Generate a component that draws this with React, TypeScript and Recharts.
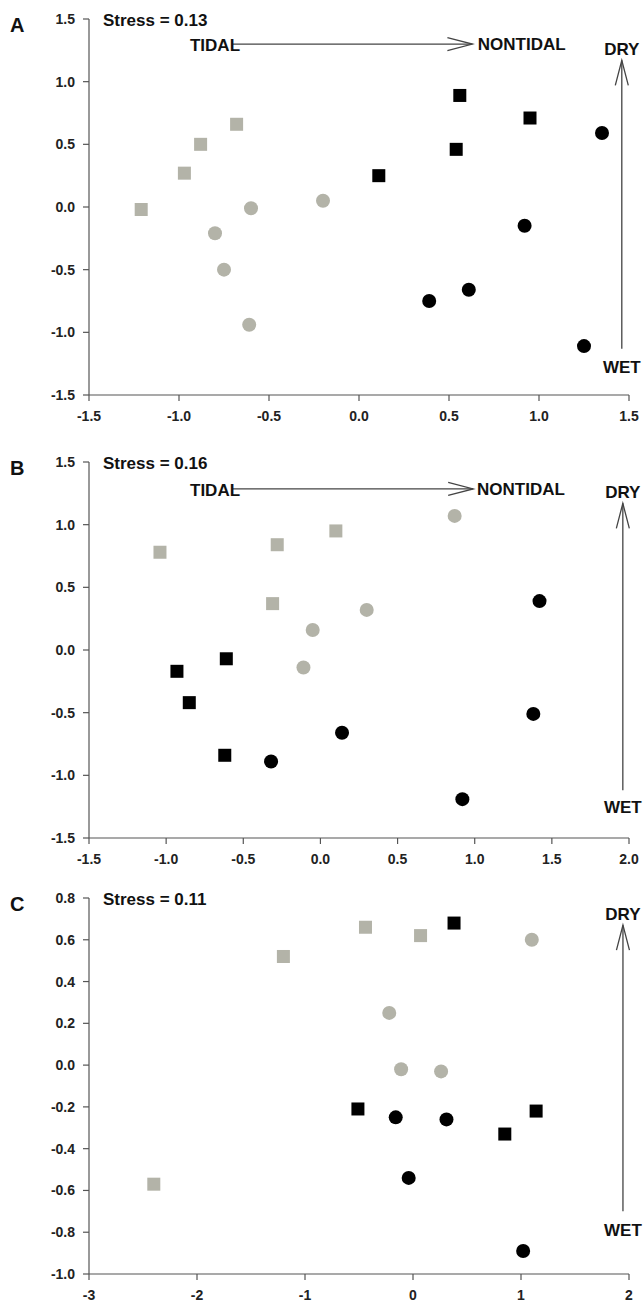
import React from "react";
import { ScatterChart, Scatter, XAxis, YAxis, ReferenceLine, ReferenceDot } from "recharts";

// ---------- Panel A ----------
const A_GRAY_SQ = [{ x: -1.21, y: -0.02 }, { x: -0.97, y: 0.27 }, { x: -0.88, y: 0.5 }, { x: -0.68, y: 0.66 }];
const A_GRAY_CI = [{ x: -0.6, y: -0.01 }, { x: -0.2, y: 0.05 }, { x: -0.8, y: -0.21 }, { x: -0.75, y: -0.5 }, { x: -0.61, y: -0.94 }];
const A_BLK_SQ = [{ x: 0.56, y: 0.89 }, { x: 0.95, y: 0.71 }, { x: 0.54, y: 0.46 }, { x: 0.11, y: 0.25 }];
const A_BLK_CI = [{ x: 1.35, y: 0.59 }, { x: 0.92, y: -0.15 }, { x: 0.61, y: -0.66 }, { x: 0.39, y: -0.75 }, { x: 1.25, y: -1.11 }];
const A_XTICKS = [-1.5, -1.0, -0.5, 0.0, 0.5, 1.0, 1.5];
const A_YTICKS = [-1.5, -1.0, -0.5, 0.0, 0.5, 1.0, 1.5];
const A_ARROWS = [
  { from: { x: -0.7, y: 1.3 }, to: { x: 0.63, y: 1.3 } },
  { from: { x: 1.46, y: -1.13 }, to: { x: 1.46, y: 1.17 } },
];
const A_LABELS = [
  { text: "TIDAL", x: -0.8, y: 1.29, anchor: "middle" },
  { text: "NONTIDAL", x: 0.66, y: 1.295, anchor: "start" },
  { text: "DRY", x: 1.46, y: 1.256, anchor: "middle" },
  { text: "WET", x: 1.46, y: -1.28, anchor: "middle" },
];

// ---------- Panel B ----------
const B_GRAY_SQ = [{ x: -1.04, y: 0.78 }, { x: -0.28, y: 0.84 }, { x: 0.1, y: 0.95 }, { x: -0.31, y: 0.37 }];
const B_GRAY_CI = [{ x: 0.87, y: 1.07 }, { x: 0.3, y: 0.32 }, { x: -0.05, y: 0.16 }, { x: -0.11, y: -0.14 }];
const B_BLK_SQ = [{ x: -0.93, y: -0.17 }, { x: -0.61, y: -0.07 }, { x: -0.85, y: -0.42 }, { x: -0.62, y: -0.84 }];
const B_BLK_CI = [{ x: 1.42, y: 0.39 }, { x: 1.38, y: -0.51 }, { x: 0.14, y: -0.66 }, { x: -0.32, y: -0.89 }, { x: 0.92, y: -1.19 }];
const B_XTICKS = [-1.5, -1.0, -0.5, 0.0, 0.5, 1.0, 1.5, 2.0];
const B_YTICKS = [-1.5, -1.0, -0.5, 0.0, 0.5, 1.0, 1.5];
const B_ARROWS = [
  { from: { x: -0.57, y: 1.285 }, to: { x: 0.99, y: 1.285 } },
  { from: { x: 1.96, y: -1.12 }, to: { x: 1.96, y: 1.17 } },
];
const B_LABELS = [
  { text: "TIDAL", x: -0.683, y: 1.275, anchor: "middle" },
  { text: "NONTIDAL", x: 1.015, y: 1.28, anchor: "start" },
  { text: "DRY", x: 1.96, y: 1.255, anchor: "middle" },
  { text: "WET", x: 1.96, y: -1.26, anchor: "middle" },
];

// ---------- Panel C ----------
const C_GRAY_SQ = [{ x: -2.4, y: -0.57 }, { x: -1.2, y: 0.52 }, { x: -0.44, y: 0.66 }, { x: 0.07, y: 0.62 }];
const C_GRAY_CI = [{ x: 1.1, y: 0.6 }, { x: -0.22, y: 0.25 }, { x: -0.11, y: -0.02 }, { x: 0.26, y: -0.03 }];
const C_BLK_SQ = [{ x: 0.38, y: 0.68 }, { x: -0.51, y: -0.21 }, { x: 1.14, y: -0.22 }, { x: 0.85, y: -0.33 }];
const C_BLK_CI = [{ x: -0.16, y: -0.25 }, { x: 0.31, y: -0.26 }, { x: -0.04, y: -0.54 }, { x: 1.02, y: -0.89 }];
const C_XTICKS = [-3, -2, -1, 0, 1, 2];
const C_YTICKS = [-1.0, -0.8, -0.6, -0.4, -0.2, 0.0, 0.2, 0.4, 0.6, 0.8];
const C_ARROWS = [{ from: { x: 1.944, y: -0.7 }, to: { x: 1.944, y: 0.67 } }];
const C_LABELS = [
  { text: "DRY", x: 1.944, y: 0.72, anchor: "middle" },
  { text: "WET", x: 1.944, y: -0.79, anchor: "middle" },
];

const GRAY = "#b3b3a8";
const BLACK = "#000000";
const FONT = "'Liberation Sans', Arial, sans-serif";

const squareShape = (color: string) => (p: any) => (
  <rect x={p.cx - 6.5} y={p.cy - 6.5} width={13} height={13} fill={color} />
);
const circleShape = (color: string) => (p: any) => <circle cx={p.cx} cy={p.cy} r={7} fill={color} />;

const arrowShape = (p: any) => {
  const { x1, y1, x2, y2 } = p;
  const ang = Math.atan2(y2 - y1, x2 - x1);
  const len = 25;
  const half = 6.5;
  const bx = x2 - len * Math.cos(ang);
  const by = y2 - len * Math.sin(ang);
  const nx = -Math.sin(ang);
  const ny = Math.cos(ang);
  const pts = `${bx + nx * half},${by + ny * half} ${x2},${y2} ${bx - nx * half},${by - ny * half}`;
  return (
    <g>
      <line x1={x1} y1={y1} x2={x2} y2={y2} stroke="#444" strokeWidth={1.3} />
      <polyline points={pts} fill="none" stroke="#444" strokeWidth={1.3} />
    </g>
  );
};

type Pt = { x: number; y: number };
type PanelProps = {
  top: number;
  letter: string;
  stress: string;
  graySq: Pt[];
  grayCi: Pt[];
  blkSq: Pt[];
  blkCi: Pt[];
  xTicks: number[];
  yTicks: number[];
  arrows: { from: Pt; to: Pt }[];
  labels: { text: string; x: number; y: number; anchor: string }[];
  xFmt: (v: number) => string;
};

const tickStyle = { fontFamily: FONT, fontSize: 14, fontWeight: 700, fill: "#222" };

function Panel(props: PanelProps) {
  const { xTicks, yTicks } = props;
  return (
    <div style={{ position: "absolute", left: 0, top: props.top, width: 644, height: 440 }}>
      <ScatterChart width={644} height={440} margin={{ top: 19, right: 15, bottom: 15, left: 29 }}>
        <XAxis
          type="number"
          dataKey="x"
          domain={[xTicks[0], xTicks[xTicks.length - 1]]}
          ticks={xTicks}
          tickFormatter={props.xFmt}
          allowDataOverflow
          height={30}
          tickSize={6}
          tickMargin={10}
          stroke="#555"
          strokeWidth={1.2}
          tick={tickStyle}
        />
        <YAxis
          type="number"
          dataKey="y"
          domain={[yTicks[0], yTicks[yTicks.length - 1]]}
          ticks={yTicks}
          tickFormatter={(v: number) => v.toFixed(1)}
          allowDataOverflow
          width={60}
          tickSize={6}
          tickMargin={8}
          stroke="#555"
          strokeWidth={1.2}
          tick={tickStyle}
        />
        {props.arrows.map((a, i) => (
          <ReferenceLine key={"a" + i} segment={[a.from, a.to]} shape={arrowShape} ifOverflow="visible" />
        ))}
        {props.labels.map((l, i) => (
          <ReferenceDot
            key={"l" + i}
            x={l.x}
            y={l.y}
            ifOverflow="visible"
            shape={(p: any) => (
              <text
                x={p.cx}
                y={p.cy}
                textAnchor={l.anchor as any}
                dominantBaseline="central"
                fontFamily={FONT}
                fontSize={17}
                fontWeight={700}
                fill="#111"
              >
                {l.text}
              </text>
            )}
          />
        ))}
        <Scatter data={props.graySq} shape={squareShape(GRAY)} isAnimationActive={false} />
        <Scatter data={props.grayCi} shape={circleShape(GRAY)} isAnimationActive={false} />
        <Scatter data={props.blkSq} shape={squareShape(BLACK)} isAnimationActive={false} />
        <Scatter data={props.blkCi} shape={circleShape(BLACK)} isAnimationActive={false} />
      </ScatterChart>
      <div
        style={{
          position: "absolute",
          left: 10,
          top: 12,
          fontFamily: FONT,
          fontSize: 20,
          fontWeight: 700,
          lineHeight: "26px",
          color: "#111",
        }}
      >
        {props.letter}
      </div>
      <div
        style={{
          position: "absolute",
          left: 103,
          top: 10,
          fontFamily: FONT,
          fontSize: 17,
          fontWeight: 700,
          lineHeight: "22px",
          color: "#111",
          whiteSpace: "nowrap",
        }}
      >
        {props.stress}
      </div>
    </div>
  );
}

export default function App() {
  return (
    <div style={{ position: "absolute", left: 0, top: 0, width: 644, height: 1303, background: "#fff" }}>
      <Panel
        top={0}
        letter="A"
        stress="Stress = 0.13"
        graySq={A_GRAY_SQ}
        grayCi={A_GRAY_CI}
        blkSq={A_BLK_SQ}
        blkCi={A_BLK_CI}
        xTicks={A_XTICKS}
        yTicks={A_YTICKS}
        arrows={A_ARROWS}
        labels={A_LABELS}
        xFmt={(v: number) => v.toFixed(1)}
      />
      <Panel
        top={443}
        letter="B"
        stress="Stress = 0.16"
        graySq={B_GRAY_SQ}
        grayCi={B_GRAY_CI}
        blkSq={B_BLK_SQ}
        blkCi={B_BLK_CI}
        xTicks={B_XTICKS}
        yTicks={B_YTICKS}
        arrows={B_ARROWS}
        labels={B_LABELS}
        xFmt={(v: number) => v.toFixed(1)}
      />
      <Panel
        top={879}
        letter="C"
        stress="Stress = 0.11"
        graySq={C_GRAY_SQ}
        grayCi={C_GRAY_CI}
        blkSq={C_BLK_SQ}
        blkCi={C_BLK_CI}
        xTicks={C_XTICKS}
        yTicks={C_YTICKS}
        arrows={C_ARROWS}
        labels={C_LABELS}
        xFmt={(v: number) => String(v)}
      />
    </div>
  );
}
